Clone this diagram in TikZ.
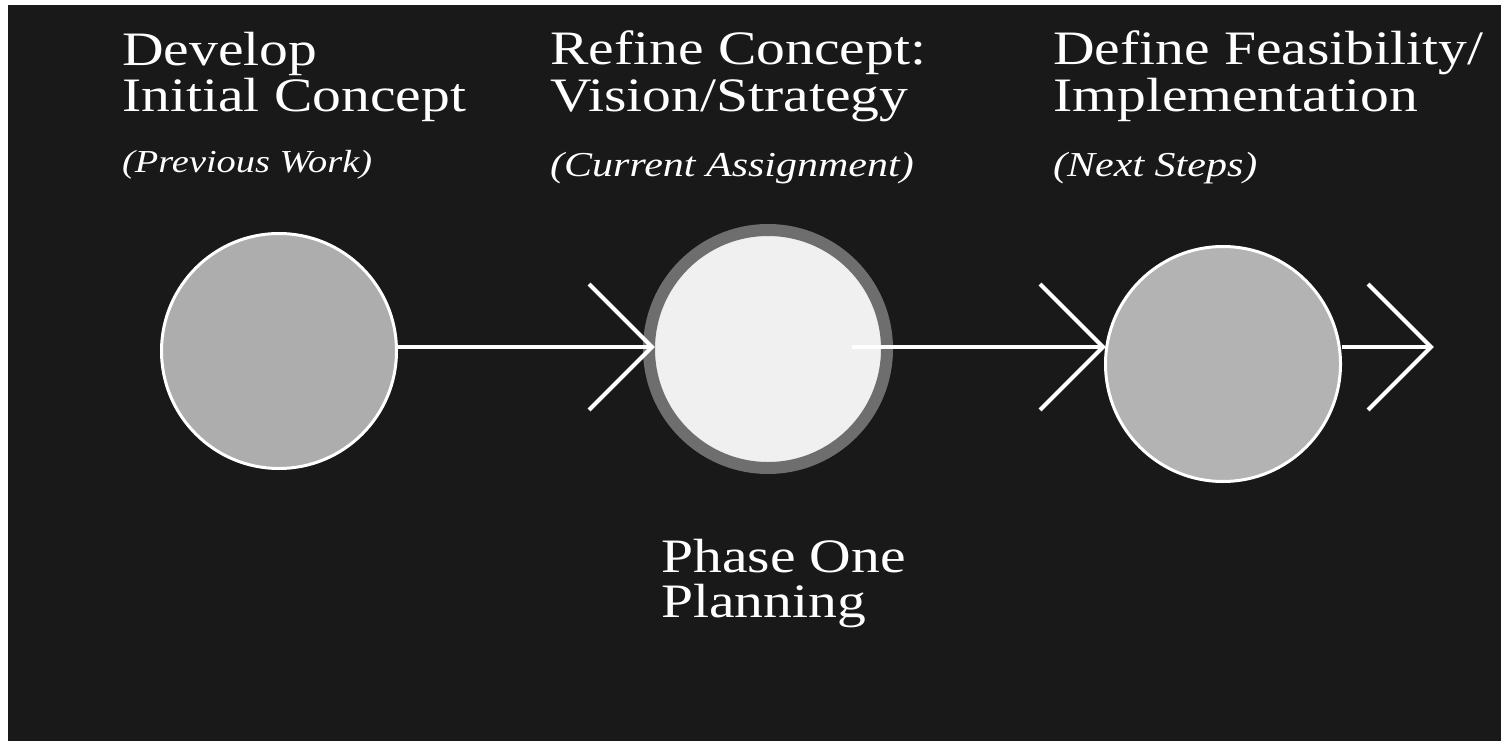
\documentclass[tikz,border=0pt]{standalone}
\usepackage{fontspec}
\setmainfont{Liberation Serif}[FakeStretch=1.2]
\usetikzlibrary{calc}
\definecolor{bgc}{HTML}{191919}
\definecolor{gone}{HTML}{ADADAD}
\definecolor{gthree}{HTML}{B3B3B3}
\definecolor{ringc}{HTML}{6E6E6E}
\definecolor{innerc}{HTML}{F0F0F0}
\begin{document}
\begin{tikzpicture}[x=1pt,y=-1pt,
  titletext/.style={anchor=base west, inner sep=0pt, text=white, font=\fontsize{48}{46}\selectfont},
  subtext/.style={anchor=base west, inner sep=0pt, text=white, font=\fontsize{35}{38}\selectfont\itshape},
  phase/.style={circle, inner sep=0pt, minimum size=235pt, draw=white, line width=3pt},
  conn/.style={draw=white, line width=4pt},
  chev/.style={draw=white, line width=4pt, line join=miter, miter limit=10},
]
\useasboundingbox (0,0) rectangle (1501,741);
\fill[white] (0,0) rectangle (1501,741);
\fill[bgc] (8,5) rectangle (1501,741);

% circles
\node[phase, fill=gone] (c1) at (279,351) {};
\node[circle, inner sep=0pt, minimum size=238pt, draw=ringc, line width=12pt, fill=innerc] (c2) at (768,349) {};
\node[phase, fill=gthree] (c3) at (1223,364) {};

% connector end points
\coordinate (tipA) at (652,347);
\coordinate (startB) at (852,347);
\coordinate (tipB) at (1103,347);
\coordinate (tipC) at (1431,347);

% connectors
\draw[conn] (c1.east |- tipA) -- (tipA);
\draw[chev] ($(tipA)+(-63,-63)$) -- (tipA) -- ($(tipA)+(-63,63)$);
\draw[conn] (startB) -- (tipB);
\draw[chev] ($(tipB)+(-63,-63)$) -- (tipB) -- ($(tipB)+(-63,63)$);
\draw[conn] (c3.east |- tipC) -- (tipC);
\draw[chev] ($(tipC)+(-63,-63)$) -- (tipC) -- ($(tipC)+(-63,63)$);

% texts
\node[titletext] (la) at (122,66) {Develop};
\node[titletext] (lb) at (122,112) {Initial Concept};
\node[subtext, font=\fontsize{32}{35}\selectfont\itshape] (lc) at (122,172) {(Previous Work)};

\node[titletext] (ma) at (550,65) {Refine Concept:};
\node[titletext] (mb) at (550,112) {Vision/Strategy};
\node[subtext] (mc) at (550,176) {(Current Assignment)};

\node[titletext] (ra) at (1053,65) {Define Feasibility/};
\node[titletext] (rb) at (1053,112) {Implementation};
\node[subtext] (rc) at (1053,176) {(Next Steps)};

\node[titletext] (pa) at (661,572) {Phase One};
\node[titletext] (pb) at (661,617) {Planning};
\end{tikzpicture}
\end{document}
